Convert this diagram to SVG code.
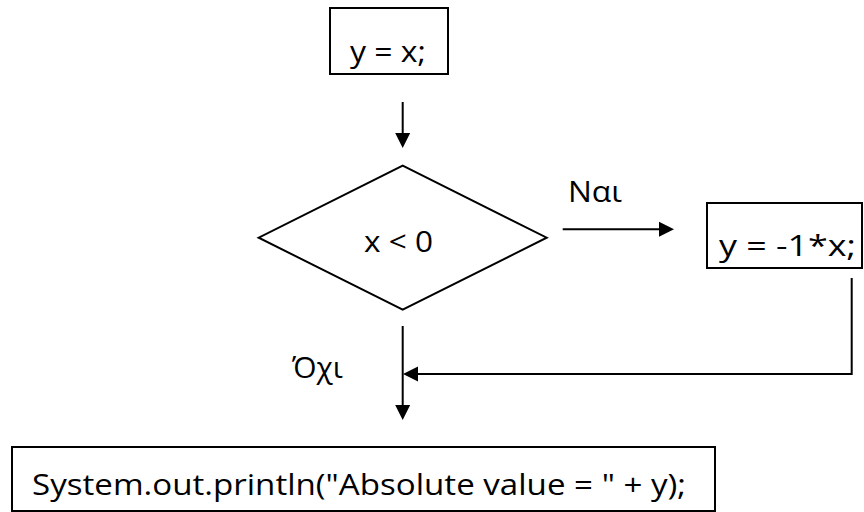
<svg xmlns="http://www.w3.org/2000/svg" width="864" height="512" viewBox="0 0 864 512">
<style>
.box{fill:#fff;stroke:#000;stroke-width:2}
.t{font-family:"Open Sans","Liberation Sans",sans-serif;font-size:29px;fill:#000}
.c{fill:none;stroke:#000;stroke-width:2}
</style>
<defs>
<marker id="ah" viewBox="0 -8 15 16" markerWidth="15" markerHeight="16" refX="0" refY="0" orient="auto" markerUnits="userSpaceOnUse">
<path d="M0,-7.5 L15,0 L0,7.5 Z" fill="#000"/>
</marker>
</defs>
<rect width="864" height="512" fill="#fff"/>
<g id="assign">
<rect class="box" x="330" y="8" width="118" height="66"/>
<text class="t" x="350" y="62" textLength="76" lengthAdjust="spacingAndGlyphs">y = x;</text>
</g>
<g id="decision">
<polygon class="box" points="402.7,165.7 546.7,237.7 402.7,309.7 258.7,237.7"/>
<text class="t" x="364" y="252" textLength="69" lengthAdjust="spacingAndGlyphs">x &lt; 0</text>
</g>
<g id="negate">
<rect class="box" x="707" y="203" width="155" height="65"/>
<text class="t" x="719" y="256" textLength="137" lengthAdjust="spacingAndGlyphs">y = -1*x;</text>
</g>
<g id="print">
<rect class="box" x="12" y="447" width="703" height="64"/>
<text class="t" x="32" y="495" textLength="654" lengthAdjust="spacingAndGlyphs">System.out.println("Absolute value = " + y);</text>
</g>
<g id="connectors">
<path class="c" d="M402.7,102 V133" marker-end="url(#ah)"/>
<path class="c" d="M562.7,229.3 H659" marker-end="url(#ah)"/>
<path class="c" d="M402.7,326 V405" marker-end="url(#ah)"/>
<path class="c" d="M851.7,278 V374 H418" marker-end="url(#ah)"/>
<text class="t" x="568" y="202" textLength="54" lengthAdjust="spacingAndGlyphs">Ναι</text>
<text class="t" x="292" y="378" textLength="51" lengthAdjust="spacingAndGlyphs">Όχι</text>
</g>
</svg>
